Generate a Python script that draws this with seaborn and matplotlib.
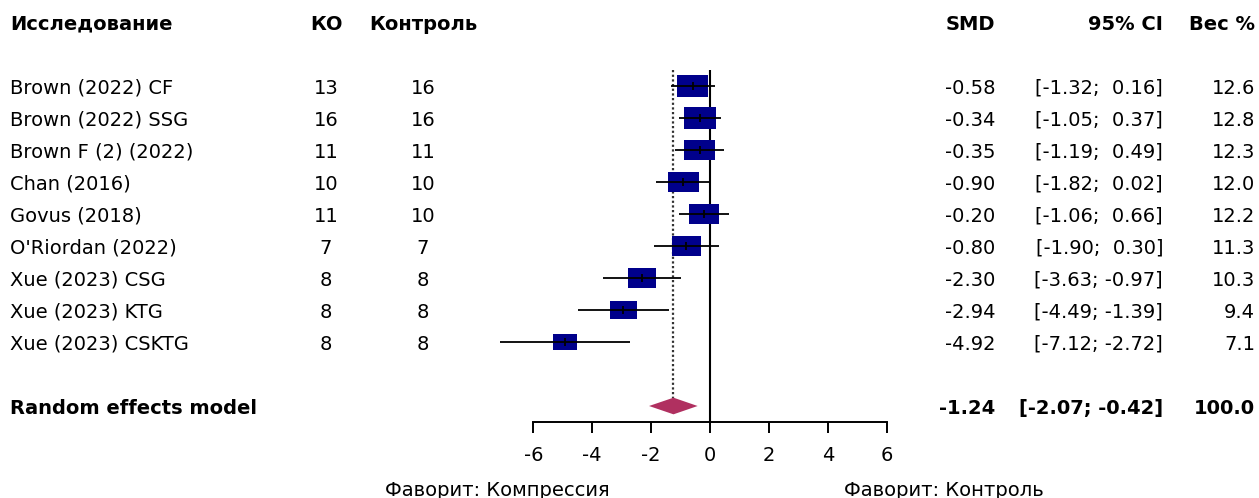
import numpy as np
import pandas as pd
import matplotlib
matplotlib.use("Agg")
import matplotlib.pyplot as plt
import seaborn as sns
from matplotlib.path import Path
from matplotlib.markers import MarkerStyle
from matplotlib.transforms import blended_transform_factory

# ---- study-level data -------------------------------------------------------
studies = ["Brown (2022) CF", "Brown (2022) SSG", "Brown F (2) (2022)",
           "Chan (2016)", "Govus (2018)", "O'Riordan (2022)",
           "Xue (2023) CSG", "Xue (2023) KTG", "Xue (2023) CSKTG"]
n_ko = [13, 16, 11, 10, 11, 7, 8, 8, 8]
n_ctrl = [16, 16, 11, 10, 10, 7, 8, 8, 8]
smd = [-0.58, -0.34, -0.35, -0.90, -0.20, -0.80, -2.30, -2.94, -4.92]
ci_low = [-1.32, -1.05, -1.19, -1.82, -1.06, -1.90, -3.63, -4.49, -7.12]
ci_high = [0.16, 0.37, 0.49, 0.02, 0.66, 0.30, -0.97, -1.39, -2.72]
weight = [12.6, 12.8, 12.3, 12.0, 12.2, 11.3, 10.3, 9.4, 7.1]

# ---- pooled estimate --------------------------------------------------------
pooled_label = "Random effects model"
pooled_smd = -1.24
pooled_low = -2.07
pooled_high = -0.42
pooled_weight = 100.0

x_ticks = [-6, -4, -2, 0, 2, 4, 6]
col_headers = ["Исследование", "КО", "Контроль", "SMD", "95% CI", "Вес %"]
label_left = "Фаворит: Компрессия"
label_right = "Фаворит: Контроль"

# ---- styling ---------------------------------------------------------------
sns.set_style("white")
plt.rcParams["font.family"] = ["DejaVu Sans"]
plt.rcParams["text.color"] = "black"
FS = 14
BOX_COLOR = "#00008B"
DIAMOND_COLOR = "#B03060"

W, H = 1259, 498
fig = plt.figure(figsize=(W / 100, H / 100), dpi=100)

# forest panel spans the full width; x unit = 29.45 px, zero at 710 px
px_per_unit = 29.45
zero_px = 710
axis_px = 421.7
ax = fig.add_axes([0, 1 - axis_px / H, 1, axis_px / H])
ax.set_xlim(-zero_px / px_per_unit, (W - zero_px) / px_per_unit)
row0_px, row_px = 86, 32
ax.set_ylim((axis_px - row0_px) / row_px, -row0_px / row_px)

rows = np.arange(len(studies))
pooled_row = len(studies) + 1
header_row = -2
top_line = -0.5

df = pd.DataFrame({"study": studies, "smd": smd, "lo": ci_low, "hi": ci_high,
                   "weight": weight, "row": rows})

# weighted boxes: marker area proportional to study weight
box = Path([(-0.5, -0.34), (0.5, -0.34), (0.5, 0.34), (-0.5, 0.34), (-0.5, -0.34)],
           [Path.MOVETO, Path.LINETO, Path.LINETO, Path.LINETO, Path.CLOSEPOLY])
sns.scatterplot(data=df, x="smd", y="row", size="weight",
                sizes=(0, 510), size_norm=(0, max(weight)),
                marker=MarkerStyle(box), color=BOX_COLOR, linewidth=0,
                legend=False, ax=ax, zorder=3)

# confidence intervals and point ticks
ax.hlines(df["row"], df["lo"], df["hi"], color="black", lw=1.3, zorder=4)
ax.vlines(df["smd"], df["row"] - 0.11, df["row"] + 0.11, color="black", lw=1.3, zorder=4)

# line of no effect and pooled estimate line
ylim_bottom = ax.get_ylim()[0]
ax.vlines(0, top_line, ylim_bottom, color="black", lw=1.5, zorder=2)
d_half = 0.26
ax.vlines(pooled_smd, top_line, pooled_row - d_half, color="#333333",
          lw=1.6, linestyles=(0, (1, 1.1)), zorder=1)

# pooled diamond
ax.fill([pooled_low, pooled_smd, pooled_high, pooled_smd],
        [pooled_row, pooled_row - d_half, pooled_row, pooled_row + d_half],
        color=DIAMOND_COLOR, lw=0, zorder=3)

# axis
for s in ["top", "left", "right"]:
    ax.spines[s].set_visible(False)
ax.spines["bottom"].set_bounds(x_ticks[0], x_ticks[-1])
ax.spines["bottom"].set_linewidth(1.4)
ax.spines["bottom"].set_color("black")
ax.set_xticks(x_ticks)
ax.set_xticklabels([str(t) for t in x_ticks])
ax.set_yticks([])
ax.tick_params(axis="x", direction="out", length=7.9, width=1.4, pad=9.5,
               labelsize=FS, colors="black", bottom=True)
ax.set_xlabel("")
ax.set_ylabel("")

# ---- text columns ---------------------------------------------------------
tr = blended_transform_factory(fig.transFigure, ax.transData)
col_x = {"study": 10 / W, "ko": 326 / W, "ctrl": 423 / W,
         "smd": 995 / W, "ci": 1163 / W, "w": 1255 / W}

def put(x, y, s, ha, bold=False):
    ax.text(x, y, s, transform=tr, ha=ha, va="center_baseline", fontsize=FS,
            fontweight="bold" if bold else "normal", color="black")

put(col_x["study"], header_row, col_headers[0], "left", True)
put(col_x["ko"], header_row, col_headers[1], "center", True)
put(col_x["ctrl"], header_row, col_headers[2], "center", True)
put(col_x["smd"], header_row, col_headers[3], "right", True)
put(col_x["ci"], header_row, col_headers[4], "right", True)
put(col_x["w"], header_row, col_headers[5], "right", True)

for r, name, a, b, m, lo, hi, w in zip(rows, studies, n_ko, n_ctrl, smd, ci_low, ci_high, weight):
    put(col_x["study"], r, name, "left")
    put(col_x["ko"], r, str(a), "center")
    put(col_x["ctrl"], r, str(b), "center")
    put(col_x["smd"], r, f"{m:.2f}", "right")
    put(col_x["ci"], r, f"[{lo:.2f}; {hi:5.2f}]", "right")
    put(col_x["w"], r, f"{w:.1f}", "right")

put(col_x["study"], pooled_row, pooled_label, "left", True)
put(col_x["smd"], pooled_row, f"{pooled_smd:.2f}", "right", True)
put(col_x["ci"], pooled_row, f"[{pooled_low:.2f}; {pooled_high:5.2f}]", "right", True)
put(col_x["w"], pooled_row, f"{pooled_weight:.1f}", "right", True)

fig.text(497 / W, 1 - 488 / H, label_left, ha="center", va="center_baseline",
         fontsize=FS, color="black")
fig.text(944 / W, 1 - 488 / H, label_right, ha="center", va="center_baseline",
         fontsize=FS, color="black")

fig.savefig("out.png", dpi=100)
